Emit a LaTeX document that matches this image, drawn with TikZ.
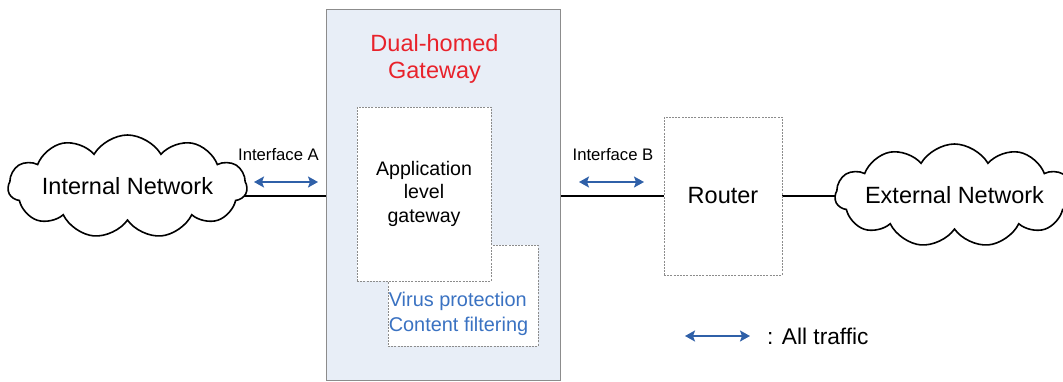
\documentclass[tikz,border=0pt]{standalone}
\usepackage{fontspec}
\setmainfont{Liberation Sans}
\usetikzlibrary{shapes.symbols,arrows.meta,backgrounds}
\definecolor{gwfill}{HTML}{E8EEF7}
\definecolor{gwline}{HTML}{8C8C8C}
\definecolor{titlered}{HTML}{E8222B}
\definecolor{svcblue}{HTML}{3A72C2}
\definecolor{arrowblue}{HTML}{2F60A8}
\tikzset{
  netcloud/.style={cloud, cloud puffs=11, cloud puff arc=120,
    draw=black, line width=1.6pt, fill=white,
    minimum width=239pt, minimum height=103pt, inner sep=0pt},
  cloudtext/.style={font=\fontsize{23.5}{26}\selectfont, inner sep=0pt},
  dashbox/.style={draw=gwline, fill=white, line width=0.6pt,
    dash pattern=on 2pt off 1.2pt, inner sep=0pt},
  link/.style={draw=black, line width=1.6pt},
  traffic/.style={draw=arrowblue, line width=1.8pt,
    {Stealth[length=10pt,width=11pt,inset=2pt]}-{Stealth[length=10pt,width=11pt,inset=2pt]}},
  iflabel/.style={font=\fontsize{16.7}{19}\selectfont, inner sep=0pt}
}
\begin{document}
\begin{tikzpicture}[x=1pt,y=-1pt]
\useasboundingbox (0,0) rectangle (1063,381);

% dual-homed gateway
\node[draw=gwline, fill=gwfill, line width=0.8pt, minimum width=234pt,
  minimum height=371pt, inner sep=0pt] (gw) at (443,194.5) {};
\node[text=titlered, align=center, font=\fontsize{23.5}{27}\selectfont,
  inner sep=0pt] (gwtitle) at (434.5,58.5) {Dual-homed\\Gateway};

% filtering services behind the application level gateway
\node[dashbox, minimum width=150pt, minimum height=101pt] (virus) at (463,295.5) {};
\node[text=svcblue, align=left, font=\fontsize{19.9}{25}\selectfont,
  inner sep=0pt] (virustxt) at (458.5,314) {Virus protection\\Content filtering};

\node[dashbox, minimum width=134pt, minimum height=174pt] (app) at (424,194) {};
\node[align=center, font=\fontsize{19.6}{23.5}\selectfont, inner sep=0pt]
  (apptxt) at (424,193.5) {Application\\level\\gateway};

% router
\node[dashbox, minimum width=118pt, minimum height=158pt,
  font=\fontsize{23.5}{26}\selectfont] (router) at (723,196) {Router};

% networks
\node[netcloud] (intnet) at (127.5,186.5) {};
\node[cloudtext] (intnettxt) at (intnet.center) {Internal Network};
\node[netcloud] (extnet) at (954.5,195.5) {};
\node[cloudtext] (extnettxt) at (extnet.center) {External Network};

% links
\coordinate (lvl) at (0,196);
\begin{scope}[on background layer]
  \draw[link] (intnet.center |- lvl) -- (gw.west |- lvl);
  \draw[link] (gw.east |- lvl) -- (router.west |- lvl);
  \draw[link] (router.east |- lvl) -- (extnet.center |- lvl);
\end{scope}

% interfaces
\node[iflabel] (ifa) at (278.5,155) {Interface A};
\coordinate (ifa-l) at (254,182);
\coordinate (ifa-r) at (318,182);
\draw[traffic] (ifa-l) -- (ifa-r);

\node[iflabel] (ifb) at (613,155) {Interface B};
\coordinate (ifb-l) at (579,182);
\coordinate (ifb-r) at (644,182);
\draw[traffic] (ifb-l) -- (ifb-r);

% legend
\coordinate (leg-l) at (685,336);
\coordinate (leg-r) at (750,336);
\draw[traffic] (leg-l) -- (leg-r);
\node[anchor=west, font=\fontsize{22.7}{26}\selectfont, inner sep=0pt]
  (legtxt) at (767,336) {: All traffic};
\end{tikzpicture}
\end{document}
